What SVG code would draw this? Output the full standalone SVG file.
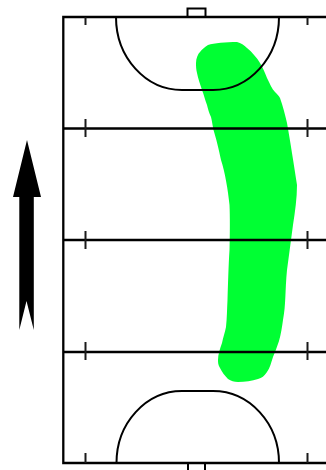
<svg xmlns="http://www.w3.org/2000/svg" width="326" height="470" viewBox="0 0 326 470">
<style>.l{fill:none;stroke:#000;stroke-width:2.300}.a{fill:none;stroke:#000;stroke-width:2}.t{fill:none;stroke:#1a1a1a;stroke-width:2}</style>
<rect width="326" height="470" fill="#fff"/>
<path id="zone" fill="#00ff33" d="M237 42C241 43 244 45 247 48C252 52 257 58 260 63C263 68 265 73 267 78C270 84 272 89 275 92C277 94 279 96 280 98C283 106 285 115 287 123C290 140 294 165 297 185C297 198 295 212 293 225C291 240 289 255 287 270C285 290 286 305 283 320C282 327 281 334 279 341C277 347 275 352 273 357C271 363 270 368 267 372C264 376 262 378 258 379C252 381 245 382 238 382C234 382 231 381 228 379C225 376 222 372 220 368C218 365 218 362 218 360C218 354 220 349 222 343C223 338 225 332 226 327C227 318 227 309 227.500 300C228 285 228.500 265 229.500 250C230 235 230 215 229.500 205C228 190 225 172 221 160C219 150 216 138 213.500 130C212.500 125 212 121 211 117C209 113 208 109 207 105C205 100 204 95 202 90C200 84 198 78 197 73C196 69 196 66 196 63C196 58 198 54 200 52C202 49 205 47 208 45C214 43 226 42 237 42Z"/>
<g id="field">
<path class="l" d="M326 17H63.300V463H326M63 128.500H326M63 240H326M63 352H326"/>
<path class="a" d="M187.500 17V8.500H205.500V17M188 463V470M205 463V470"/>
<path class="t" d="M85.500 17V25M307.500 17V25M85.500 119V137M307.500 119V137M85.500 231V249M307.500 231V249M85.500 342V360M307.500 342V360M85.500 453V463M307.500 453V463"/>
<path class="a" d="M116 17A66 73 0 0 0 182 90H213A66 73 0 0 0 279 17"/>
<path class="a" d="M116.500 463A65.500 72 0 0 1 182 391H213A66 72 0 0 1 279 463"/>
</g>
<path id="arrow" fill="#000" d="M27 140L41 197H33.800V330L26.500 301L19.300 330V197H13Z"/>
</svg>
